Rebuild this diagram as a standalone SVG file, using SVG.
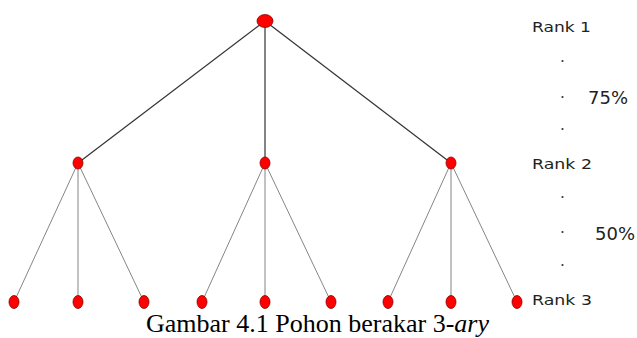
<svg xmlns="http://www.w3.org/2000/svg" width="637" height="338" viewBox="0 0 637 338">
<style>
.node{fill:#ff0000;stroke:#8b0000;stroke-width:0.8}
.e1{stroke:#333;stroke-width:1.2;fill:none}
.e2{stroke:#777;stroke-width:0.9;fill:none}
.lbl{font-family:"DejaVu Sans",sans-serif;font-size:14px;fill:#222}
.pct{font-family:"DejaVu Sans",sans-serif;font-size:18px;fill:#222}
.dot{fill:#333}
.cap{font-family:"Liberation Serif",serif;font-size:26px;fill:#000}
</style>
<rect width="637" height="338" fill="#fff"/>
<g id="connectors">
<line class="e1" x1="265" y1="21" x2="78" y2="163"/>
<line class="e1" x1="265" y1="21" x2="265" y2="163"/>
<line class="e1" x1="265" y1="21" x2="451" y2="163"/>
<line class="e2" x1="78" y1="163" x2="14" y2="302"/>
<line class="e2" x1="78" y1="163" x2="78" y2="302"/>
<line class="e2" x1="78" y1="163" x2="144" y2="302"/>
<line class="e2" x1="265" y1="163" x2="202" y2="302"/>
<line class="e2" x1="265" y1="163" x2="265" y2="302"/>
<line class="e2" x1="265" y1="163" x2="331" y2="302"/>
<line class="e2" x1="451" y1="163" x2="388" y2="302"/>
<line class="e2" x1="451" y1="163" x2="451" y2="302"/>
<line class="e2" x1="451" y1="163" x2="517" y2="302"/>
</g>
<g id="root"><ellipse class="node" cx="265" cy="21" rx="8" ry="6.5"/></g>
<g id="n1"><ellipse class="node" cx="78" cy="163" rx="5" ry="6"/></g>
<g id="n2"><ellipse class="node" cx="265" cy="163" rx="5" ry="6"/></g>
<g id="n3"><ellipse class="node" cx="451" cy="163" rx="5" ry="6"/></g>
<g id="l1"><ellipse class="node" cx="14" cy="302" rx="5" ry="6.5"/></g>
<g id="l2"><ellipse class="node" cx="78" cy="302" rx="5" ry="6.5"/></g>
<g id="l3"><ellipse class="node" cx="144" cy="302" rx="5" ry="6.5"/></g>
<g id="l4"><ellipse class="node" cx="202" cy="302" rx="5" ry="6.5"/></g>
<g id="l5"><ellipse class="node" cx="265" cy="302" rx="5" ry="6.5"/></g>
<g id="l6"><ellipse class="node" cx="331" cy="302" rx="5" ry="6.5"/></g>
<g id="l7"><ellipse class="node" cx="388" cy="302" rx="5" ry="6.5"/></g>
<g id="l8"><ellipse class="node" cx="451" cy="302" rx="5" ry="6.5"/></g>
<g id="l9"><ellipse class="node" cx="517" cy="302" rx="5" ry="6.5"/></g>
<g id="legend">
<text class="lbl" x="532" y="32" textLength="59" lengthAdjust="spacingAndGlyphs">Rank 1</text>
<circle class="dot" cx="562.5" cy="61" r="1.1"/>
<circle class="dot" cx="562.5" cy="97" r="1.1"/>
<circle class="dot" cx="562.5" cy="129" r="1.1"/>
<text class="pct" x="588" y="104">75%</text>
<text class="lbl" x="532" y="169" textLength="60" lengthAdjust="spacingAndGlyphs">Rank 2</text>
<circle class="dot" cx="562.5" cy="197" r="1.1"/>
<circle class="dot" cx="562.5" cy="232" r="1.1"/>
<circle class="dot" cx="562.5" cy="265" r="1.1"/>
<text class="pct" x="595" y="240">50%</text>
<text class="lbl" x="532" y="305" textLength="60" lengthAdjust="spacingAndGlyphs">Rank 3</text>
</g>
<text class="cap" x="146" y="332">Gambar 4.1 Pohon berakar 3-<tspan font-style="italic">ary</tspan></text>
</svg>
